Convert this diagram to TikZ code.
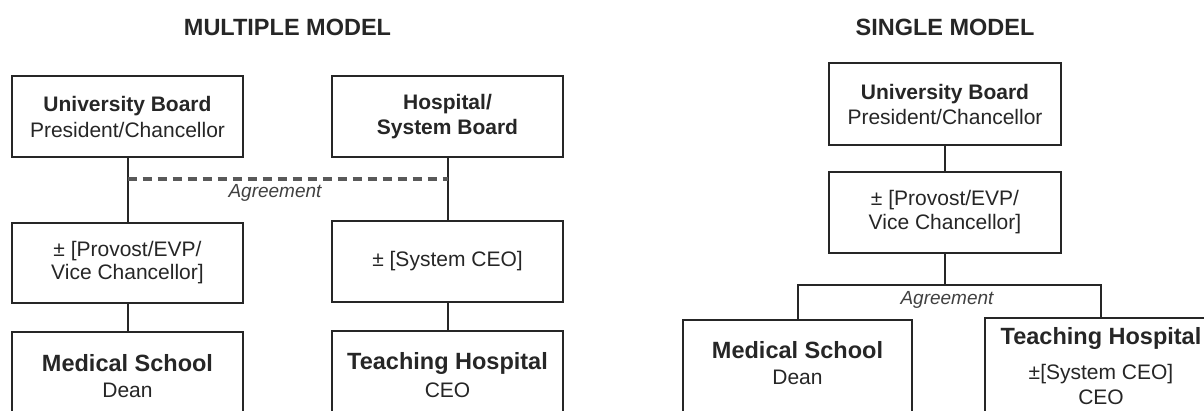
\documentclass[tikz,border=0pt]{standalone}
\usepackage{fontspec}
\setmainfont{Liberation Sans}
\newcommand{\bodysize}{\fontsize{21}{25}\selectfont}
\newcommand{\unitsize}{\fontsize{23.5}{26}\selectfont}
\newcommand{\titlesize}{\fontsize{23.5}{26}\selectfont}
\newcommand{\notesize}{\fontsize{19}{22}\selectfont}
\begin{document}
\begin{tikzpicture}[x=1pt,y=-1pt,
  line/.style={draw=black!85, line width=2pt},
  orgbox/.style={line, fill=white, minimum width=231pt, inner sep=0pt,
                 align=center, text=black!85, font=\bodysize},
  caption/.style={font=\titlesize\bfseries, text=black!85},
  label/.style={font=\bodysize, text=black!85, inner sep=0pt, align=center},
  unit/.style={font=\unitsize\bfseries, text=black!85, inner sep=0pt},
  agree/.style={font=\notesize\itshape, text=black!75, inner sep=0pt},
  pact/.style={draw=black!65, line width=3.2pt, dash pattern=on 9pt off 6pt}]
\useasboundingbox (0,0) rectangle (1204,411);
\clip (0,0) rectangle (1204,411);

% ---------------- multiple model ----------------
\node[caption] (mtitle) at (287.5,27) {MULTIPLE MODEL};

\node[orgbox, minimum height=81pt, font=\fontsize{21}{26}\selectfont] (ub) at (127.5,116.5)
  {\textbf{University Board}\\President/Chancellor};
\node[orgbox, minimum height=81pt, font=\fontsize{21}{25}\selectfont] (hb) at (447.5,116.5)
  {\textbf{Hospital/}\\\textbf{System Board}};
\node[orgbox, minimum height=80pt, font=\fontsize{21}{23}\selectfont] (pv) at (127.5,263)
  {± [Provost/EVP/\\Vice Chancellor]};
\node[orgbox, minimum height=81pt] (sc) at (447.5,261.5) {± [System CEO]};
\node[orgbox, minimum height=108pt] (ms) at (127.5,386) {};
\node[orgbox, minimum height=110pt] (th) at (447.5,386) {};
\node[unit] (msa) at (127.5,363) {Medical School};
\node[label] (msb) at (127.5,390) {Dean};
\node[unit] (tha) at (447.5,363) {Teaching Hospital};
\node[label] (thb) at (447.5,390) {CEO};

\draw[line] (ub.south) -- (pv.north);
\draw[line] (pv.south) -- (ms.north);
\draw[line] (hb.south) -- (sc.north);
\draw[line] (sc.south) -- (th.north);

\coordinate (agl) at (127.5,179);
\coordinate (agr) at (447.5,179);
\draw[pact] (agl) -- (agr);
\node[agree] (ag1) at (275,193) {Agreement};

% ---------------- single model ----------------
\node[caption] (stitle) at (945,27) {SINGLE MODEL};

\node[orgbox, minimum width=232pt, minimum height=82pt, font=\fontsize{21}{25}\selectfont] (sub) at (945,104)
  {\textbf{University Board}\\President/Chancellor};
\node[orgbox, minimum width=232pt, minimum height=81pt, font=\fontsize{21}{24}\selectfont] (spv) at (945,212.5)
  {± [Provost/EVP/\\Vice Chancellor]};
\node[orgbox, minimum width=229pt, minimum height=110pt] (sms) at (797.5,375) {};
\node[orgbox, minimum width=232pt, minimum height=112pt] (sth) at (1101,374) {};
\node[unit] (smsa) at (797.5,350) {Medical School};
\node[label] (smsb) at (797.5,377) {Dean};
\node[unit] (stha) at (1101,338) {Teaching Hospital};
\node[label] (sthb) at (1101,374) {±[System CEO]};
\node[label] (sthc) at (1101,397) {CEO};

\coordinate (br) at (945,285);
\draw[line] (sub.south) -- (spv.north);
\draw[line] (spv.south) -- (br);
\draw[line] (sms.north) -- (sms.north |- br) -- (sth.north |- br) -- (sth.north);
\node[agree] (ag2) at (947,300) {Agreement};
\end{tikzpicture}
\end{document}
